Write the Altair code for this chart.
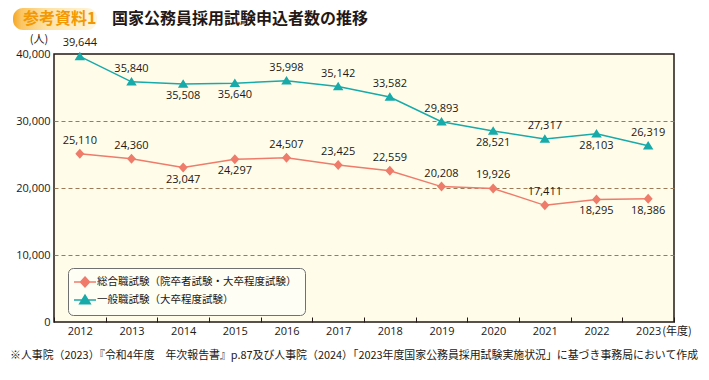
import altair as alt
import pandas as pd

years = [2012, 2013, 2014, 2015, 2016, 2017, 2018, 2019, 2020, 2021, 2022, 2023]
sogo = [25110, 24360, 23047, 24297, 24507, 23425, 22559, 20208, 19926, 17411, 18295, 18386]
ippan = [39644, 35840, 35508, 35640, 35998, 35142, 33582, 29893, 28521, 27317, 28103, 26319]
sogo_pos = ["above", "above", "below", "below", "above", "above", "above", "above", "above", "above", "below", "below"]
ippan_pos = ["above", "above", "below", "below", "above", "above", "above", "above", "below", "above", "below", "above"]
series_names = ["総合職試験（院卒者試験・大卒程度試験）", "一般職試験（大卒程度試験）"]
series_colors = ["#ef7b6b", "#17aaa9"]
y_ticks = [0, 10000, 20000, 30000, 40000]

badge_text = "参考資料1"
title_text = "国家公務員採用試験申込者数の推移"
unit_text = "(人)"
year_unit = "(年度)"
note_text = "※人事院（2023）『令和4年度　年次報告書』p.87及び人事院（2024）「2023年度国家公務員採用試験実施状況」に基づき事務局において作成"

rows = []
for name, col, vals, pos in [(series_names[0], series_colors[0], sogo, sogo_pos),
                             (series_names[1], series_colors[1], ippan, ippan_pos)]:
    for yr, v, p in zip(years, vals, pos):
        rows.append({"year": yr, "value": v, "series": name, "hex": col, "pos": p})
df = pd.DataFrame(rows)

FONT = "Noto Sans CJK JP"
NUMFONT = "Open Sans"
DARK = "#231815"

diamond = "M0,-1L0.9,0L0,1L-0.9,0Z M-2.2,0H2.2"
triangle = "M0,-0.95L1.05,0.75L-1.05,0.75Z M-2.2,0H2.2"

legend = alt.Legend(
    title=None, orient="none", legendX=14, legendY=214,
    fillColor="#fffef4", strokeColor="#707070", cornerRadius=5, padding=8,
    symbolSize=100, symbolStrokeWidth=1.5, symbolOffset=3, labelOffset=6,
    labelFontSize=10.5, labelFont=FONT, labelColor=DARK, rowPadding=2, labelLimit=0,
)

color_scale = alt.Scale(domain=series_names, range=series_colors)
shape_scale = alt.Scale(domain=series_names, range=[diamond, triangle])

base = alt.Chart(df).encode(
    x=alt.X("year:O", title=None,
            scale=alt.Scale(type="band", paddingInner=0, paddingOuter=0),
            axis=alt.Axis(labelAngle=0, domain=False, tickBand="extent", tickSize=5,
                          offset=-5, tickColor=DARK, tickWidth=1, labelPadding=3,
                          labelFontSize=11, labelFont=NUMFONT, labelColor=DARK, grid=False)),
    y=alt.Y("value:Q", title=None,
            scale=alt.Scale(domain=[0, 40000], nice=False),
            axis=alt.Axis(values=y_ticks, labelExpr="format(datum.value, ',')", domain=False, ticks=False,
                          labelPadding=4, labelFontSize=11, labelFont=NUMFONT, labelColor=DARK,
                          gridColor="#9c7a56", gridDash=[4, 3], gridWidth=1,
                          gridOpacity={"condition": {"test": "datum.value <= 0 || datum.value >= 40000", "value": 0}, "value": 1})),
)

lines = base.mark_line(strokeWidth=1.5).encode(
    color=alt.Color("hex:N", scale=None),
    detail="series:N",
)

legend_layer = base.mark_point(filled=True, size=100, strokeWidth=1.5, opacity=1).encode(
    color=alt.Color("series:N", scale=color_scale, legend=legend),
    stroke=alt.Stroke("series:N", scale=color_scale, legend=legend),
    shape=alt.Shape("series:N", scale=shape_scale, legend=legend),
).transform_filter("datum.value < 0")

points = base.mark_point(filled=True, size=100, strokeWidth=0, opacity=1).encode(
    color=alt.Color("series:N", scale=color_scale, legend=legend),
    shape=alt.Shape("series:N", scale=shape_scale, legend=legend),
)

lab_above = base.mark_text(dy=-13, fontSize=11, font=NUMFONT, color=DARK).transform_filter(
    alt.datum.pos == "above").encode(text=alt.Text("value:Q", format=","))
lab_below = base.mark_text(dy=12, fontSize=11, font=NUMFONT, color=DARK).transform_filter(
    alt.datum.pos == "below").encode(text=alt.Text("value:Q", format=","))

year_unit_df = pd.DataFrame({"year": [years[-1]], "t": [year_unit]})
year_unit_mark = alt.Chart(year_unit_df).mark_text(
    align="left", baseline="middle", dx=14, fontSize=11, font=FONT, color=DARK
).encode(x=alt.X("year:O"), y=alt.value(278), text="t:N")

deco = pd.DataFrame({"badge": [badge_text], "title": [title_text], "unit": [unit_text], "note": [note_text]})

badge_rect = alt.Chart(deco).mark_rect(
    cornerRadius=10,
    fill=alt.LinearGradient(
        gradient="linear", x1=0, x2=1, y1=0, y2=0,
        stops=[alt.GradientStop(color="#f6a623", offset=0),
               alt.GradientStop(color="#fbc663", offset=0.1),
               alt.GradientStop(color="#fde2a6", offset=0.4),
               alt.GradientStop(color="#fff6df", offset=1)]),
).encode(x=alt.value(-41), x2=alt.value(43), y=alt.value(-46), y2=alt.value(-24))

badge_txt = alt.Chart(deco).mark_text(
    align="left", baseline="top", fontSize=16, fontWeight="bold", font=FONT, color="#f39800"
).encode(x=alt.value(-31), y=alt.value(-43), text="badge:N")

title_txt = alt.Chart(deco).mark_text(
    align="left", baseline="top", fontSize=16, fontWeight="bold", font=FONT, color=DARK
).encode(x=alt.value(58), y=alt.value(-43), text="title:N")

unit_txt = alt.Chart(deco).mark_text(
    align="center", baseline="middle", fontSize=11, font=FONT, color=DARK
).encode(x=alt.value(-15), y=alt.value(-14), text="unit:N")

note_txt = alt.Chart(deco).mark_text(
    align="left", baseline="middle", fontSize=10.9, font=FONT, color=DARK
).encode(x=alt.value(-44), y=alt.value(302), text="note:N")

chart = alt.layer(
    lines, legend_layer, points, lab_above, lab_below, year_unit_mark,
    badge_rect, badge_txt, title_txt, unit_txt, note_txt,
).properties(
    width=620, height=268,
    autosize=alt.AutoSizeParams(type="none"),
    padding={"left": 46, "top": 46, "right": 27, "bottom": 44},
    background="white",
).configure_view(
    fill="#fffde9", stroke=DARK, strokeWidth=1.5,
)

chart.save("out.html", embed_options={"renderer": "svg", "actions": False})
